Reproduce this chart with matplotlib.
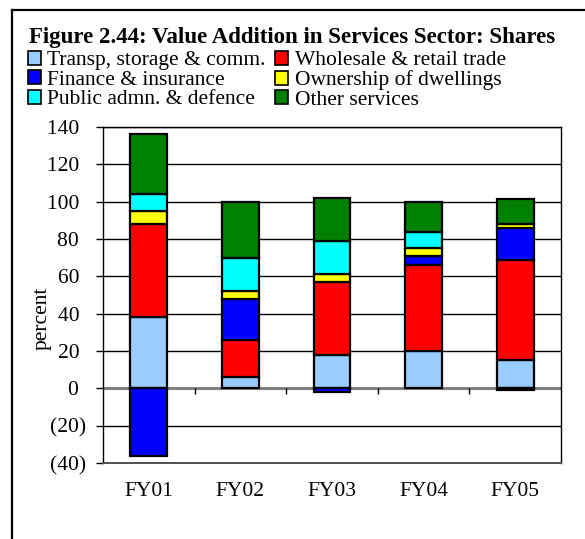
import numpy as np
import matplotlib
matplotlib.use("Agg")
import matplotlib.pyplot as plt
from matplotlib.lines import Line2D
from matplotlib.ticker import FuncFormatter

plt.rcParams['font.family'] = ['Liberation Serif', 'DejaVu Serif']

# shares of value addition, percent
years = ['FY01', 'FY02', 'FY03', 'FY04', 'FY05']
transp = [38, 6, 18, 20, 15]
wholesale = [50, 20, 39, 46, 54]
finance = [-36, 22, -2, 5, 17]
dwellings = [7, 4, 4, 4, 2]
public = [9, 18, 18, 9, -0.7]
other = [32, 30, 23, 16, 13.5]

names = ['Transp, storage & comm.', 'Wholesale & retail trade', 'Finance & insurance',
         'Ownership of dwellings', 'Public admn. & defence', 'Other services']
colors = ['#99CCFF', '#FF0000', '#0000FF', '#FFFF00', '#00FFFF', '#008000']
series = [transp, wholesale, finance, dwellings, public, other]

fs = 15.5

fig = plt.figure(figsize=(5.85, 5.39), dpi=100)
ax = fig.add_axes([103 / 585, 1 - 463 / 539, 458 / 585, 336 / 539])

x = np.arange(len(years))
pos = np.zeros(len(years))
neg = np.zeros(len(years))
bars = []
for vals, col in zip(series, colors):
    vals = np.array(vals, dtype=float)
    base = np.where(vals >= 0, pos, neg)
    b = ax.bar(x, vals, 0.4, bottom=base, color=col, edgecolor='black',
               linewidth=1.6, zorder=3)
    bars.append(b)
    pos = pos + np.clip(vals, 0, None)
    neg = neg + np.clip(vals, None, 0)

ax.set_xlim(-0.5, 4.5)
ax.set_ylim(-40, 140)
ax.set_yticks(np.arange(-40, 141, 20))
# accounting style: negatives in brackets, positives padded by a bracket's width
ax.yaxis.set_major_formatter(FuncFormatter(
    lambda v, p: f'({abs(int(v))})' if v < 0 else f'{int(v)}\u2004'))
ax.grid(axis='y', color='black', linewidth=1.0, zorder=0)
ax.axhline(0, color='#808080', linewidth=2.2, zorder=2)
ax.vlines(np.arange(0.5, 4.5), -3, 0, color='black', linewidth=1.0, zorder=2)

ax.set_xticks(x)
ax.set_xticklabels(years)
ax.tick_params(axis='x', length=0, pad=14, labelsize=fs)
ax.tick_params(axis='y', length=5, width=1, direction='out', labelsize=fs, pad=7)
ax.set_ylabel('percent', fontsize=fs)
ax.yaxis.set_label_coords(-0.113, 0.431)
for s in ['left', 'right', 'top']:
    ax.spines[s].set_color('black')
    ax.spines[s].set_linewidth(1.0)
ax.spines['bottom'].set_color('#505050')
ax.spines['bottom'].set_linewidth(1.4)

# outer frame
fig.add_artist(Line2D([12 / 585, 1], [1 - 10 / 539] * 2, color='black', lw=1.6))
fig.add_artist(Line2D([12 / 585] * 2, [0, 1 - 10 / 539], color='black', lw=1.6))

fig.text(29 / 585, 1 - 37 / 539, 'Figure 2.44: Value Addition in Services Sector: Shares',
         fontsize=16.5, fontweight='bold', va='center', ha='left')

order = [0, 2, 4, 1, 3, 5]
leg = fig.legend([bars[i] for i in order], [names[i] for i in order], ncol=2,
                 loc='upper left', bbox_to_anchor=(28 / 585, 1 - 51 / 539),
                 frameon=False, fontsize=fs, handlelength=0.6, handleheight=0.6,
                 handletextpad=0.3, columnspacing=0.45, labelspacing=0.0,
                 borderpad=0, borderaxespad=0)
for h in leg.legend_handles:
    h.set_linewidth(1.2)

fig.savefig('out.png', dpi=100)
